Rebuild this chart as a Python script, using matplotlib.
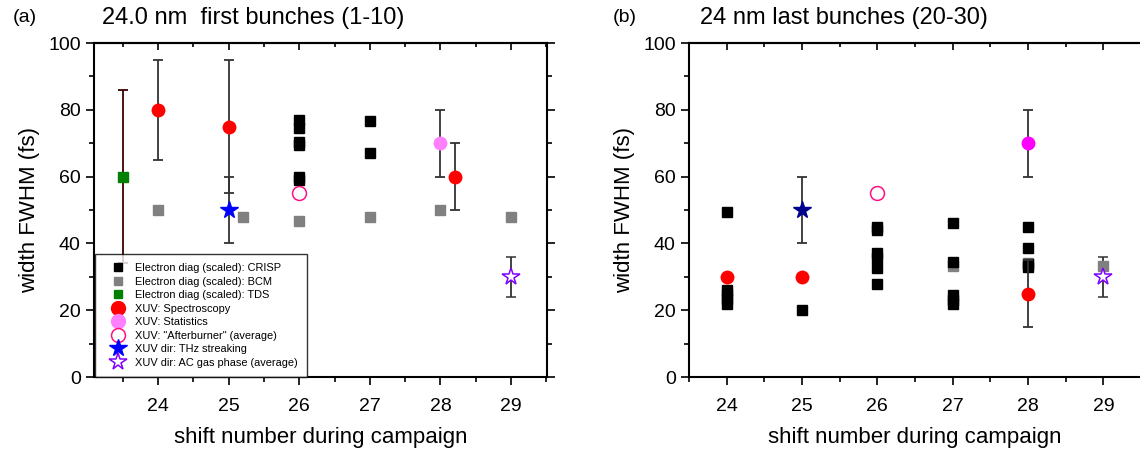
import matplotlib
matplotlib.use("Agg")
import matplotlib.pyplot as plt
from matplotlib.ticker import MultipleLocator
from matplotlib.lines import Line2D

plt.rcParams['font.family'] = ['Liberation Sans', 'DejaVu Sans']

# ---------------- panel (a) data ----------------
crisp_a_x = [26, 26, 26, 26, 26, 26, 27, 27]
crisp_a_y = [76.9, 74.5, 70.4, 69.5, 60.0, 59.0, 76.7, 67.2]
bcm_a_x = [24, 25.2, 26, 27, 28, 29]
bcm_a_y = [50, 48, 46.7, 48, 50, 48]
tds_a_x = [23.5]
tds_a_y = [60]
tds_a_err = [26]
spec_a_x = [24, 25, 28.2]
spec_a_y = [80, 75, 60]
spec_a_err = [15, 20, 10]
stat_a_x = [28]
stat_a_y = [70]
stat_a_err = [10]
after_a_x = [26]
after_a_y = [55]
thz_a_x = [25]
thz_a_y = [50]
thz_a_err = [10]
ac_a_x = [29]
ac_a_y = [30]
ac_a_err = [6]

# ---------------- panel (b) data ----------------
crisp_b_x = [24, 24, 24, 24, 24,
             25,
             26, 26, 26, 26, 26, 26,
             27, 27, 27, 27, 27,
             28, 28, 28, 28]
crisp_b_y = [49.3, 26.0, 25.0, 23.5, 22.0,
             20.0,
             44.8, 44.0, 37.0, 35.5, 32.7, 27.7,
             46.1, 34.4, 24.5, 23.0, 22.0,
             44.9, 38.6, 33.8, 33.0]
bcm_b_x = [27, 28, 29]
bcm_b_y = [33.3, 34.0, 33.3]
spec_b_x = [24, 25, 28]
spec_b_y = [30, 30, 25]
spec_b_err = [0, 0, 10]
stat_b_x = [28]
stat_b_y = [70]
stat_b_err = [10]
after_b_x = [26]
after_b_y = [55]
thz_b_x = [25]
thz_b_y = [50]
thz_b_err = [10]
ac_b_x = [29]
ac_b_y = [30]
ac_b_err = [6]

x_ticks = [24, 25, 26, 27, 28, 29]
legend_labels = ["Electron diag (scaled): CRISP",
                 "Electron diag (scaled): BCM",
                 "Electron diag (scaled): TDS",
                 "XUV: Spectroscopy",
                 "XUV: Statistics",
                 "XUV: \"Afterburner\" (average)",
                 "XUV dir: THz streaking",
                 "XUV dir: AC gas phase (average)"]

fig = plt.figure(figsize=(11.4, 4.54), dpi=100)
axA = fig.add_axes([94/1140, 1-377/454, (547-94)/1140, (377-43)/454])
axB = fig.add_axes([689/1140, 1-377/454, (1141-689)/1140, (377-43)/454])

EB = dict(ecolor='#333333', elinewidth=1.3, capsize=3.5, capthick=1.3)
SQ = 7
CI = 10
ST = 13


def style(ax, xlim):
    ax.set_xlim(*xlim)
    ax.set_ylim(0, 100)
    ax.set_xticks(x_ticks)
    ax.xaxis.set_minor_locator(MultipleLocator(0.5))
    ax.yaxis.set_major_locator(MultipleLocator(20))
    ax.yaxis.set_minor_locator(MultipleLocator(10))
    ax.tick_params(which='both', direction='out', top=False, right=True,
                   labelsize=14, width=1.2)
    ax.tick_params(which='major', length=6)
    ax.tick_params(which='minor', length=3.5)
    ax.tick_params(axis='x', which='major', pad=9)
    for s in ax.spines.values():
        s.set_linewidth(1.5)
    # top axis with inward ticks, no labels
    top = ax.secondary_xaxis('top')
    top.set_xticks(x_ticks)
    top.xaxis.set_minor_locator(MultipleLocator(0.5))
    top.tick_params(which='both', direction='in', labeltop=False, width=1.2)
    top.tick_params(which='major', length=5)
    top.tick_params(which='minor', length=3)
    top.spines['top'].set_linewidth(1.5)
    ax.set_xlabel("shift number during campaign", fontsize=16, labelpad=9)
    ax.set_ylabel("width FWHM (fs)", fontsize=16, labelpad=6)


# ---- panel (a)
axA.errorbar(tds_a_x, tds_a_y, yerr=tds_a_err, fmt='s', color='#008000', ms=SQ,
             ecolor='#3a0000', elinewidth=1.3, capsize=3.5, capthick=1.3, zorder=2)
axA.errorbar(spec_a_x, spec_a_y, yerr=spec_a_err, fmt='o', color='#ff0000', ms=CI, mec='none', zorder=3, **EB)
axA.errorbar(stat_a_x, stat_a_y, yerr=stat_a_err, fmt='o', color='#ff80ff', ms=CI, mec='none', zorder=3, **EB)
axA.errorbar(thz_a_x, thz_a_y, yerr=thz_a_err, fmt='*', color='#0000ff', ms=ST, mec='#0000ff', zorder=3, **EB)
axA.errorbar(ac_a_x, ac_a_y, yerr=ac_a_err, fmt='*', color='#8000ff', ms=ST, mfc='white', mec='#8000ff', mew=1.1, zorder=3, **EB)
axA.plot(crisp_a_x, crisp_a_y, 's', color='black', ms=SQ, ls='none', zorder=4)
axA.plot(bcm_a_x, bcm_a_y, 's', color='#808080', ms=SQ, ls='none', zorder=4)
axA.plot(after_a_x, after_a_y, 'o', mfc='white', mec='#ff1080', mew=1.1, ms=CI, ls='none', zorder=4)
style(axA, (23.09, 29.51))

handles = [
    Line2D([], [], marker='s', color='black', ls='none', ms=6),
    Line2D([], [], marker='s', color='#808080', ls='none', ms=6),
    Line2D([], [], marker='s', color='#008000', ls='none', ms=6),
    Line2D([], [], marker='o', color='#ff0000', ls='none', ms=10),
    Line2D([], [], marker='o', color='#ff80ff', ls='none', ms=10),
    Line2D([], [], marker='o', mfc='white', mec='#ff1080', ls='none', ms=10, mew=1.1),
    Line2D([], [], marker='*', color='#0000ff', ls='none', ms=13),
    Line2D([], [], marker='*', mfc='white', mec='#8000ff', ls='none', ms=13, mew=1.1),
]
leg = axA.legend(handles, legend_labels, loc='lower left', fontsize=7.9,
                 frameon=True, fancybox=False, edgecolor='black',
                 borderaxespad=0.0, handletextpad=0.2, labelspacing=0.32,
                 borderpad=0.85, handlelength=2.6, handleheight=0.7,
                 bbox_to_anchor=(0.002, 0.0))
leg.get_frame().set_linewidth(1.0)
leg.set_zorder(10)

# ---- panel (b)
axB.errorbar(spec_b_x, spec_b_y, yerr=spec_b_err, fmt='o', color='#ff0000', ms=CI, mec='none', zorder=5, **EB)
axB.errorbar(stat_b_x, stat_b_y, yerr=stat_b_err, fmt='o', color='#ff00ff', ms=CI, mec='none', zorder=3, **EB)
axB.errorbar(thz_b_x, thz_b_y, yerr=thz_b_err, fmt='*', color='#000090', ms=ST, mec='#000090', zorder=3, **EB)
axB.errorbar(ac_b_x, ac_b_y, yerr=ac_b_err, fmt='*', color='#8000ff', ms=ST, mfc='white', mec='#8000ff', mew=1.1, zorder=3, **EB)
axB.plot(bcm_b_x, bcm_b_y, 's', color='#808080', ms=SQ, ls='none', zorder=3)
axB.plot(crisp_b_x, crisp_b_y, 's', color='black', ms=SQ, ls='none', zorder=4)
axB.plot(after_b_x, after_b_y, 'o', mfc='white', mec='#ff1080', mew=1.1, ms=CI, ls='none', zorder=4)
style(axB, (23.5, 29.5))

# ---- titles
fig.text(13/1140, 1-18/454, "(a)", fontsize=14, va='center', ha='left')
fig.text(102/1140, 1-18/454, "24.0 nm  first bunches (1-10)", fontsize=17, va='center', ha='left')
fig.text(613/1140, 1-18/454, "(b)", fontsize=14, va='center', ha='left')
fig.text(700/1140, 1-18/454, "24 nm last bunches (20-30)", fontsize=17, va='center', ha='left')

fig.savefig("out.png", dpi=100)
